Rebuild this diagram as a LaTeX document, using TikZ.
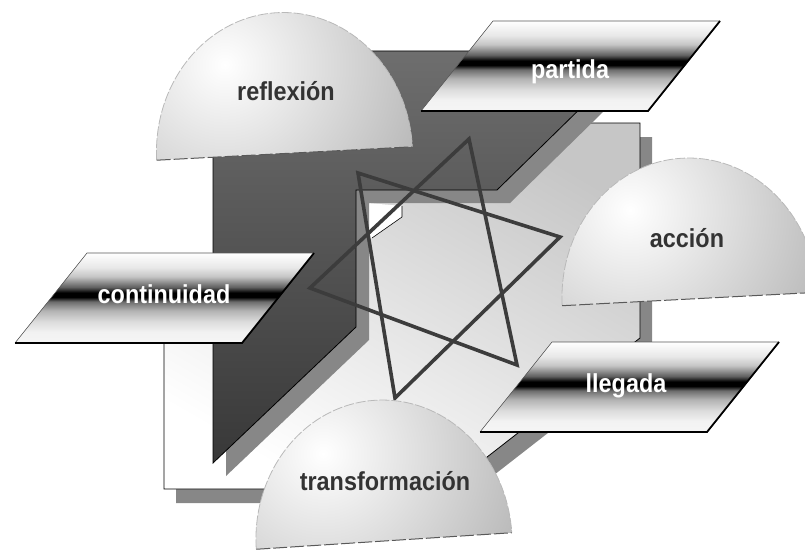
\documentclass[tikz,border=0pt]{standalone}
\usepackage{fontspec}
\setmainfont{Liberation Sans}
\usetikzlibrary{calc}
\pgfdeclareverticalshading{metal}{100bp}{color(0bp)=(white); color(25bp)=(white!92!gray); color(31bp)=(white!90!gray); color(37bp)=(gray!28); color(43bp)=(gray!60); color(48bp)=(gray!85!black); color(50.5bp)=(black); color(53bp)=(black); color(56bp)=(gray!75!black); color(62bp)=(gray!45); color(67bp)=(gray!18); color(75bp)=(white); color(100bp)=(white)}
\definecolor{darkA}{HTML}{6E6E6E}
\definecolor{darkB}{HTML}{383838}
\definecolor{shad}{HTML}{878787}
\definecolor{lightA}{HTML}{C6C6C6}
\definecolor{starc}{HTML}{3C3C3C}
\definecolor{domeText}{HTML}{333333}
\tikzset{
  domearc/.style={draw=gray!55, line width=0.8pt, dash pattern=on 10pt off 2pt},
  domebase/.style={draw=gray!70!black, line width=1pt, dash pattern=on 14pt off 3pt},
  domelabel/.style={anchor=base, text=domeText, font=\fontsize{26}{30}\selectfont\bfseries, inner sep=0pt, xscale=0.9},
  platelabel/.style={anchor=base, text=white, font=\fontsize{26}{30}\selectfont\bfseries, inner sep=0pt, xscale=0.9},
  starline/.style={draw=starc, line width=3.6pt, line join=miter},
  shadowfill/.style={fill=shad},
}
\newcommand{\dome}[3]{% cx cy angle
  \begin{scope}[shift={(#1,#2)},rotate=#3]
    \begin{scope}
      \clip (-128,0) arc[start angle=180,end angle=360,x radius=128,y radius=141] -- cycle;
      \shade[inner color=white,outer color=gray!58] (-55,-95) circle (215);
    \end{scope}
    \draw[domearc] (-128,0) arc[start angle=180,end angle=360,x radius=128,y radius=141];
    \draw[domebase] (-128,0) -- (128,0);
  \end{scope}
}
\newcommand{\plate}[2]{% top-left x, top y
  \shade[shading=metal] (#1,#2) -- ++(227,0) -- ++(-72,90) -- ++(-227,0) -- cycle;
  \draw[gray!70!black, line width=0.6pt] (#1-72,#2+90) -- (#1,#2) -- ++(227,0);
  \draw[black, line width=1.8pt] (#1+227,#2) -- ++(-72,90) -- ++(-227,0);
}
\begin{document}
\begin{tikzpicture}[x=1pt,y=-1pt]
\useasboundingbox (0,0) rectangle (805,551);
% light snipped panel with shadow
\fill[shadowfill,shift={(12,14)}] (391,123) -- (640,123) -- (640,338) -- (446,489) -- (164,489) -- (164,300) -- cycle;
\shade[top color=lightA,bottom color=white,shading angle=-30] (391,123) -- (640,123) -- (640,338) -- (446,489) -- (164,489) -- (164,300) -- cycle;
\draw[black,line width=0.8pt] (391,123) -- (640,123) -- (640,338) -- (446,489) -- (164,489) -- (164,300) -- cycle;
% white notch
\fill[white] (368,203) -- (402,206) -- (402,217) -- (372,238) -- (368,238) -- cycle;
\draw[black,line width=0.6pt] (402,206) -- (402,217) -- (372,238);
% dark half frame with shadow
\fill[shadowfill,shift={(13,13)}] (213,51) -- (639,51) -- (497,190) -- (356,190) -- (356,327) -- (213,463) -- cycle;
\shade[top color=darkA,bottom color=darkB] (213,51) -- (639,51) -- (497,190) -- (356,190) -- (356,327) -- (213,463) -- cycle;
\draw[black,line width=0.8pt] (213,51) -- (639,51) -- (497,190) -- (356,190) -- (356,327) -- (213,463) -- cycle;
% star
\coordinate (a1) at (469,139);
\coordinate (a2) at (310,288);
\coordinate (a3) at (517,365);
\coordinate (b1) at (358,173);
\coordinate (b2) at (560,237);
\coordinate (b3) at (395,398);
\draw[starline] (a1) -- (a2) -- (a3) -- cycle;
\draw[starline] (b1) -- (b2) -- (b3) -- cycle;
% domes
\dome{284.5}{153.5}{3}
\dome{690}{299}{3}
\dome{384}{541}{3.7}
\node[domelabel] (reflexion) at (286,100) {reflexión};
\node[domelabel] (accion) at (687,247) {acción};
\node[domelabel] (transformacion) at (385,490) {transformación};
% plates
\plate{493}{21}
\plate{87}{253}
\plate{552}{342}
\node[platelabel] (partida) at (570,78) {partida};
\node[platelabel] (continuidad) at (164,303) {continuidad};
\node[platelabel] (llegada) at (626,392) {llegada};
\end{tikzpicture}
\end{document}
